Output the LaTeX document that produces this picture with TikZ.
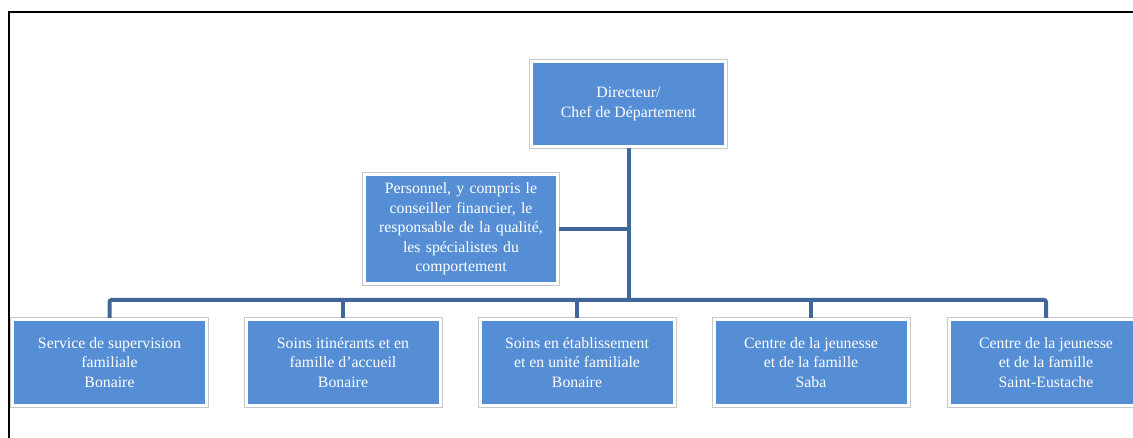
\documentclass[tikz,border=0pt]{standalone}
\usepackage{fontspec}
\setmainfont{Liberation Serif}
\definecolor{boxblue}{HTML}{558ED5}
\definecolor{connblue}{HTML}{41679A}
\definecolor{rimgray}{HTML}{C8C8C8}
\begin{document}
\begin{tikzpicture}[x=1pt,y=-1pt,
  unit/.style={rectangle, fill=boxblue, draw=white, line width=3pt,
    preaction={draw=rimgray, line width=5pt},
    inner sep=0pt, align=center, text=white,
    font=\fontsize{15.8}{19.6}\selectfont},
  conn/.style={draw=connblue, line width=4pt}]
\useasboundingbox (0,0) rectangle (1133,438);
\clip (0,0) rectangle (1133,438);
\draw[line width=2pt] (8.5,438) -- (8.5,12) -- (1140,12);
% nodes
\node[unit, minimum width=194pt, minimum height=85pt] (top) at (628.5,104) {Directeur/\\Chef de Département};
\node[unit, minimum width=193pt, minimum height=109pt, text width=188pt] (mid) at (461,229) {Personnel, y compris le\\conseiller financier, le\\responsable de la qualité,\\les spécialistes du\\comportement};
\node[unit, minimum width=194pt, minimum height=86pt] (b1) at (109.5,362.5) {Service de supervision\\familiale\\Bonaire};
\node[unit, minimum width=194pt, minimum height=86pt] (b2) at (343,362.5) {Soins itinérants et en\\famille d’accueil\\Bonaire};
\node[unit, minimum width=194pt, minimum height=86pt] (b3) at (577,362.5) {Soins en établissement\\et en unité familiale\\Bonaire};
\node[unit, minimum width=194pt, minimum height=86pt] (b4) at (811,362.5) {Centre de la jeunesse\\et de la famille\\Saba};
\node[unit, minimum width=194pt, minimum height=86pt] (b5) at (1046,362.5) {Centre de la jeunesse\\et de la famille\\Saint-Eustache};
% connectors
\coordinate (bus) at (629,300);
\draw[conn, rounded corners=2pt] (b1.north) -- (b1.north |- bus) -- (b5.north |- bus) -- (b5.north);
\foreach \n in {b2,b3,b4} \draw[conn] (\n.north) -- (\n.north |- bus);
\draw[conn] (top.south) -- (top.south |- bus);
\draw[conn] (mid.east) -- (mid.east -| top.south);
\end{tikzpicture}
\end{document}
